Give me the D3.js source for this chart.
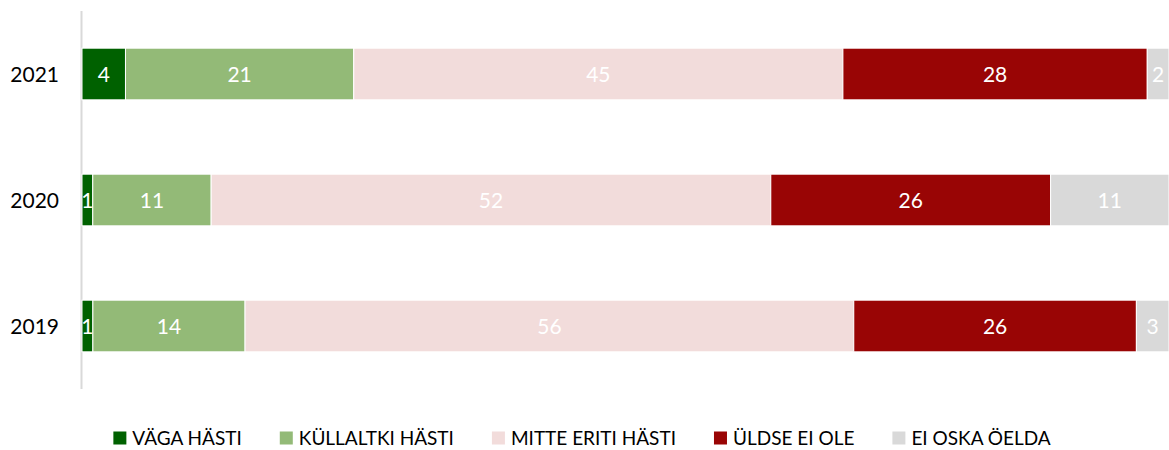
<!DOCTYPE html>
<html><head><meta charset="utf-8">
<script src="https://cdn.jsdelivr.net/npm/d3@7"></script>
<style>body{margin:0;background:#fff}svg{display:block;font-family:Lato,"Open Sans",sans-serif}</style>
</head><body>
<script>
const years = ["2021","2020","2019"];
const seriesNames = ["VÄGA HÄSTI","KÜLLALTKI HÄSTI","MITTE ERITI HÄSTI","ÜLDSE EI OLE","EI OSKA ÖELDA"];
const colors = ["#006100","#93BA77","#F2DCDB","#990505","#D9D9D9"];
const vaga     = [4, 1, 1];
const kullaltki= [21, 11, 14];
const mitte    = [45, 52, 56];
const uldse    = [28, 26, 26];
const eiOska   = [2, 11, 3];

const W=1169,H=450;
const svg=d3.select("body").append("svg").attr("width",W).attr("height",H);
const rows=years.map((y,i)=>({year:y,s0:vaga[i],s1:kullaltki[i],s2:mitte[i],s3:uldse[i],s4:eiOska[i]}));
const keys=["s0","s1","s2","s3","s4"];
const stack=d3.stack().keys(keys).offset(d3.stackOffsetExpand)(rows);
const x=d3.scaleLinear().domain([0,1]).range([82,1169]);
const y=d3.scaleBand().domain(years).range([11,389]).paddingInner(0.59).paddingOuter(0.295);

svg.append("line").attr("x1",81.5).attr("x2",81.5).attr("y1",11).attr("y2",389).attr("stroke","#d9d9d9").attr("stroke-width",2);

const g=svg.selectAll("g.ser").data(stack).join("g").attr("fill",(d,i)=>colors[i]);
g.selectAll("rect").data(d=>d.map(p=>({p,key:d.key}))).join("rect")
 .attr("x",d=>x(d.p[0])).attr("width",d=>x(d.p[1])-x(d.p[0]))
 .attr("y",d=>y(d.p.data.year)).attr("height",y.bandwidth())
 .attr("stroke","#fff").attr("stroke-width",1);
g.selectAll("text").data(d=>d.map(p=>({p,key:d.key}))).join("text")
 .attr("x",d=>(x(d.p[0])+x(d.p[1]))/2).attr("y",d=>y(d.p.data.year)+y.bandwidth()/2)
 .attr("text-anchor","middle").attr("dy","0.36em").attr("fill","#fff").attr("font-size",21)
 .text(d=>d.p.data[d.key]);

svg.selectAll("text.yl").data(years).join("text").attr("class","yl")
 .attr("x",59).attr("y",d=>y(d)+y.bandwidth()/2).attr("dy","0.36em")
 .attr("text-anchor","end").attr("font-size",21).attr("fill","#000").text(d=>d);

// legend
const lg=svg.append("g");
const items=lg.selectAll("g").data(seriesNames).join("g");
items.append("rect").attr("width",13).attr("height",13).attr("y",-6.5).attr("fill",(d,i)=>colors[i]);
items.append("text").attr("x",19).attr("dy","0.36em").attr("font-size",19).attr("fill","#000").text(d=>d);
let cx=0;const gap=38;const pos=[];
items.each(function(){const w=19+this.querySelector("text").getComputedTextLength();pos.push(cx);cx+=w+gap;});
const total=cx-gap;const start=582-total/2;
items.attr("transform",(d,i)=>`translate(${start+pos[i]},438)`);
</script>
</body></html>
